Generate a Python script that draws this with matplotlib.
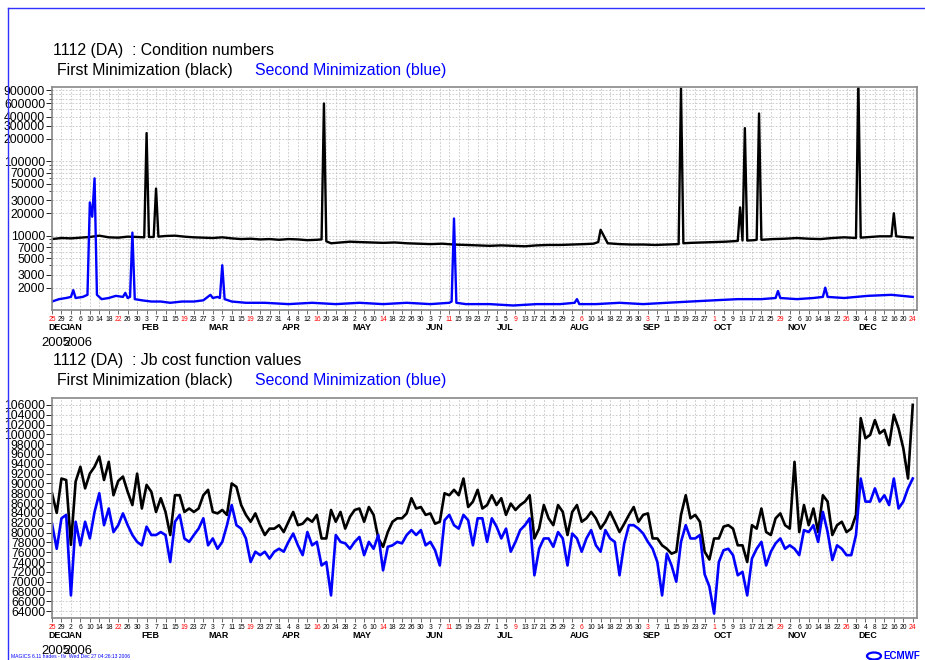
import datetime as dt
import numpy as np
import matplotlib
matplotlib.use('Agg')
import matplotlib.pyplot as plt
from matplotlib.lines import Line2D
from matplotlib.patches import Ellipse
from matplotlib.ticker import FixedLocator, NullFormatter

plt.rcParams['font.family'] = ['Liberation Sans', 'DejaVu Sans']

START = dt.date(2005, 12, 25)

# condition numbers, first minimization (day offset from 25 Dec 2005, value)
cond1_days = [0, 4, 8, 12, 16, 20, 24, 28, 32, 36, 39, 40, 41, 43, 44, 45, 48, 52,
              56, 60, 64, 68, 72, 76, 80, 84, 88, 92, 96, 100, 104, 108, 112, 114,
              115, 116, 118, 122, 126, 130, 135, 140, 145, 150, 155, 160, 165, 170,
              175, 180, 185, 190, 195, 200, 205, 210, 215, 220, 225, 229, 230, 231,
              232, 235, 240, 245, 250, 255, 260, 265, 266, 267, 270, 275, 280, 285,
              290, 291, 292, 293, 294, 297, 298, 299, 300, 305, 310, 315, 320, 325,
              330, 335, 340, 341, 342, 346, 350, 355, 356, 357, 360, 364]
cond1_vals = [9000, 9300, 9200, 9400, 9600, 10000, 9500, 9400, 9700, 9600, 9500,
              240000, 9600, 9600, 43000, 9700, 9900, 10000, 9700, 9500, 9400, 9300,
              9500, 9200, 9000, 9100, 8900, 9000, 8800, 9000, 8900, 8700, 8800, 8900,
              600000, 8400, 7900, 8100, 8300, 8200, 8100, 8000, 8100, 7900, 7800,
              7700, 7800, 7600, 7500, 7400, 7300, 7400, 7300, 7200, 7400, 7500, 7500,
              7600, 7700, 7800, 8000, 8200, 12000, 7900, 7700, 7600, 7600, 7500, 7600,
              7700, 960000, 7900, 8000, 8100, 8200, 8300, 8500, 24000, 8600, 280000,
              8600, 8700, 8800, 440000, 8800, 9000, 9100, 9300, 9100, 9000, 9300,
              9500, 9300, 1200000, 9400, 9600, 9800, 9800, 20000, 9800, 9600, 9400]

# condition numbers, second minimization
cond2_days = [0, 3, 6, 8, 9, 10, 13, 15, 16, 17, 18, 19, 21, 24, 27, 30, 31, 32, 33,
              34, 35, 38, 42, 46, 50, 55, 60, 64, 67, 68, 70, 71, 72, 73, 76, 82, 90,
              100, 110, 120, 130, 140, 150, 160, 168, 169, 170, 171, 175, 185, 195,
              205, 215, 221, 222, 223, 230, 240, 250, 260, 270, 280, 290, 300, 306,
              307, 308, 315, 322, 326, 327, 328, 335, 345, 355, 364]
cond2_vals = [1300, 1400, 1450, 1500, 1850, 1450, 1500, 1600, 28000, 18000, 59000,
              1600, 1400, 1450, 1550, 1500, 1700, 1450, 1500, 11000, 1400, 1350, 1300,
              1300, 1250, 1300, 1300, 1350, 1600, 1450, 1500, 1450, 4000, 1400, 1300,
              1250, 1250, 1200, 1250, 1200, 1250, 1200, 1250, 1200, 1250, 1300, 17000,
              1250, 1200, 1200, 1150, 1200, 1200, 1250, 1400, 1200, 1200, 1250, 1200,
              1250, 1300, 1350, 1400, 1400, 1450, 1800, 1450, 1400, 1450, 1500, 2000,
              1500, 1450, 1550, 1600, 1500]

# Jb cost function values (thousands), every second day from 25 Dec 2005
jb_days = np.arange(0, 365, 2)
jb1 = [88, 84, 91, 90.7, 77.5, 90.4, 93.4, 89, 92, 93.4,
       95.5, 90.7, 94.4, 87.6, 90.5, 91.4, 88.3, 85.6, 92, 84.9,
       89.7, 88.3, 84.2, 87, 84.2, 79.5, 87.6, 87.6, 84.2, 84.9,
       84.2, 84.9, 87.6, 88.7, 84.2, 83.9, 84.6, 83.6, 90, 89.3,
       85.6, 83.6, 82.2, 83.9, 81.5, 79.5, 80.8, 80.8, 81.5, 80.1,
       82.2, 84.2, 81.5, 81.8, 82.9, 82.2, 83.6, 78.8, 78.8, 84.6,
       82.2, 84.2, 80.8, 83.2, 84.6, 84.9, 82.2, 85.2, 83.6, 78.8,
       77.1, 80.1, 82.2, 82.9, 82.9, 83.9, 87, 84.9, 85.2, 83.6,
       83.9, 81.8, 82.2, 88, 87.6, 88.7, 87.6, 91, 85.2, 86.3,
       88.7, 84.9, 85.6, 87.6, 85.6, 87, 83.6, 85.9, 84.6, 85.6,
       86.3, 87.6, 78.8, 80.8, 85.6, 82.9, 81.5, 85.6, 84.2, 79.5,
       84.2, 85.6, 82.2, 82.9, 84.2, 82.9, 80.8, 82.2, 84.2, 82.2,
       80.1, 81.8, 83.6, 85.2, 82.2, 83.6, 83.9, 78.8, 78.8, 77.4,
       76.7, 75.7, 76.1, 83.6, 87.6, 82.9, 83.6, 82.2, 76.1, 74.5,
       78.8, 78.8, 81.2, 81.5, 80.8, 77.4, 77.4, 74, 81.5, 80.8,
       84.9, 80.1, 79.5, 82.9, 83.9, 81.5, 80.8, 94.4, 80.1, 85.6,
       81.5, 84.9, 80.1, 87.6, 86.3, 79.5, 81.5, 82.2, 80.1, 80.8,
       83.6, 103.3, 99.2, 99.9, 102.9, 100.2, 100.9, 97.8, 104, 101.2,
       97.2, 91, 106]
jb2 = [81.8, 76.7, 82.9, 83.6, 67.2, 82.2, 77.4, 82.2, 78.8, 84.2,
       88, 81.5, 84.9, 80.1, 81.5, 83.9, 81.5, 79.5, 78.1, 77.4,
       81.2, 79.5, 79.5, 80.1, 79.5, 74, 82.2, 83.6, 78.8, 78.1,
       79.5, 80.8, 82.9, 77.4, 78.8, 76.7, 78.1, 81.5, 85.6, 81.5,
       80.8, 78.8, 74, 76.1, 75.4, 76.1, 74.7, 76.1, 76.7, 76.1,
       78.1, 79.8, 77.4, 75.4, 80.1, 77.4, 78.1, 73.3, 74, 67.2,
       79.5, 78.1, 77.8, 76.7, 78.1, 79.1, 75.4, 78.1, 76.7, 79.5,
       72.3, 77.1, 77.4, 78.1, 77.8, 79.5, 80.5, 79.5, 80.5, 77.4,
       78.1, 76.4, 73.3, 82.5, 83.6, 81.5, 80.8, 83.6, 82.5, 77.4,
       82.9, 82.9, 78.1, 82.9, 81.2, 78.8, 80.8, 76.1, 78.1, 80.5,
       81.5, 82.9, 71.3, 76.7, 78.8, 78.8, 77.1, 80.1, 78.8, 73.3,
       79.8, 78.8, 76.1, 78.8, 80.5, 77.4, 76.1, 80.5, 78.8, 78.1,
       71.3, 77.8, 81.5, 81.5, 80.8, 79.8, 78.1, 76.7, 74, 67.2,
       75.7, 73.3, 70, 78.1, 81.5, 78.8, 78.8, 79.5, 71.5, 69,
       63.5, 74, 76.4, 76.7, 75.4, 71.3, 72, 67.2, 74.7, 76.7,
       78.1, 73.3, 76.1, 77.8, 78.8, 76.7, 77.4, 76.7, 75.4, 80.5,
       80.1, 81.5, 78.1, 84.2, 80.1, 74.4, 77.4, 76.7, 75.4, 75.4,
       79.5, 91, 86.3, 86.3, 89, 86.3, 87.6, 85.6, 91, 84.9,
       86.3, 89, 91]

cond_ticks = [2000, 3000, 5000, 7000, 10000, 20000, 30000, 50000, 70000,
              100000, 200000, 300000, 400000, 600000, 900000]
jb_ticks = list(range(64000, 106001, 2000))
months = ['DEC', 'JAN', 'FEB', 'MAR', 'APR', 'MAY', 'JUN', 'JUL', 'AUG',
          'SEP', 'OCT', 'NOV', 'DEC']

W, H = 925, 660


def fx(px):
    return px / W


def fy(py):
    return 1 - py / H


def style_time_axis(ax):
    tick_days = np.arange(0, 365, 4)
    ax.set_xlim(0, 365.8)
    ax.set_xticks(tick_days)
    labels = []
    colors = []
    for d in tick_days:
        date = START + dt.timedelta(days=int(d))
        labels.append(str(date.day))
        colors.append('red' if date.weekday() == 6 else 'black')
    ax.set_xticklabels(labels, fontsize=4.9)
    for lab, c in zip(ax.get_xticklabels(), colors):
        lab.set_color(c)
    ax.tick_params(axis='x', length=3, width=0.6, pad=1.5, color='#555555')
    # month names at the first of each month
    for i, name in enumerate(months):
        if i == 0:
            d = -1.6
        elif i == 1:
            d = 5.5
        else:
            d = (dt.date(2006, i, 1) - START).days
        ax.annotate(name, xy=(d, 0), xycoords=('data', 'axes fraction'),
                    xytext=(0, -17.5), textcoords='offset pixels',
                    ha='left', va='center', fontsize=6.4, fontweight='bold',
                    annotation_clip=False)
    ax.annotate('2005', xy=(-4.3, 0), xycoords=('data', 'axes fraction'),
                xytext=(0, -33), textcoords='offset pixels', ha='left',
                va='center', fontsize=9.4, annotation_clip=False)
    ax.annotate('2006', xy=(4.7, 0), xycoords=('data', 'axes fraction'),
                xytext=(0, -33), textcoords='offset pixels', ha='left',
                va='center', fontsize=9.4, annotation_clip=False)
    ax.grid(True, axis='x', color='#c4c4c4', linestyle=(0, (2, 2)), lw=0.6)
    for s in ax.spines.values():
        s.set_color('#888888')
        s.set_linewidth(1.2)
    ax.set_axisbelow(True)


fig = plt.figure(figsize=(W / 100, H / 100), dpi=100)

# ---- condition numbers
ax1 = fig.add_axes([fx(52), fy(310), fx(917) - fx(52), fy(87) - fy(310)])
ax1.plot(cond1_days, cond1_vals, color='black', lw=1.7)
ax1.plot(cond2_days, cond2_vals, color='#0000ff', lw=1.7)
ax1.set_yscale('log')
ax1.set_ylim(1000, 1.0e6)
minor = [m * 10 ** e for e in range(3, 6) for m in range(1, 10)]
minor = [v for v in minor if v not in cond_ticks and 1000 < v < 1e6]
ax1.yaxis.set_major_locator(FixedLocator(cond_ticks))
ax1.yaxis.set_minor_locator(FixedLocator(minor))
ax1.yaxis.set_minor_formatter(NullFormatter())
ax1.set_yticklabels([str(v) for v in cond_ticks])
ax1.tick_params(axis='y', which='major', labelsize=8.8, length=4, width=0.6, pad=1)
ax1.tick_params(axis='y', which='minor', length=2, width=0.5)
ax1.grid(True, axis='y', which='both', color='#c4c4c4', linestyle=(0, (2, 2)), lw=0.6)
style_time_axis(ax1)

# ---- Jb cost function
ax2 = fig.add_axes([fx(52), fy(618), fx(917) - fx(52), fy(398) - fy(618)])
ax2.plot(jb_days, np.array(jb1) * 1000, color='black', lw=1.9)
ax2.plot(jb_days, np.array(jb2) * 1000, color='#0000ff', lw=1.9)
ax2.set_ylim(62600, 107400)
ax2.set_yticks(jb_ticks)
ax2.set_yticklabels([str(v) for v in jb_ticks])
ax2.tick_params(axis='y', labelsize=8.8, length=4, width=0.6, pad=1)
ax2.grid(True, axis='y', color='#c4c4c4', linestyle=(0, (2, 2)), lw=0.6)
style_time_axis(ax2)

# ---- titles
fig.text(fx(53), fy(50.5), '1112 (DA)  : Condition numbers', fontsize=11.4, va='center')
fig.text(fx(57), fy(70), 'First Minimization (black)', fontsize=11.4, va='center')
fig.text(fx(255), fy(70), 'Second Minimization (blue)', fontsize=11.4, va='center',
         color='#0000ff')
fig.text(fx(53), fy(360), '1112 (DA)  : Jb cost function values', fontsize=11.4, va='center')
fig.text(fx(57), fy(380), 'First Minimization (black)', fontsize=11.4, va='center')
fig.text(fx(255), fy(380), 'Second Minimization (blue)', fontsize=11.4, va='center',
         color='#0000ff')

# page frame and footer
fig.add_artist(Line2D([fx(8), fx(8)], [fy(8), fy(660)], color='#3030ff', lw=1.0))
fig.add_artist(Line2D([fx(8), fx(925)], [fy(8), fy(8)], color='#3030ff', lw=1.0))
fig.text(fx(11), fy(657), 'MAGICS 6.11 hades - flv  Wed Dec 27 04:26:13 2006',
         fontsize=3.6, color='#0000ff', va='center')
fig.add_artist(Ellipse((fx(874), fy(656)), 14 / W, 7 / H, facecolor='none',
                       edgecolor='#0000ff', lw=1.6))
fig.text(fx(883), fy(656), 'ECMWF', fontsize=7, color='#0000ff', va='center',
         fontweight='bold')

fig.savefig('out.png', dpi=100)
